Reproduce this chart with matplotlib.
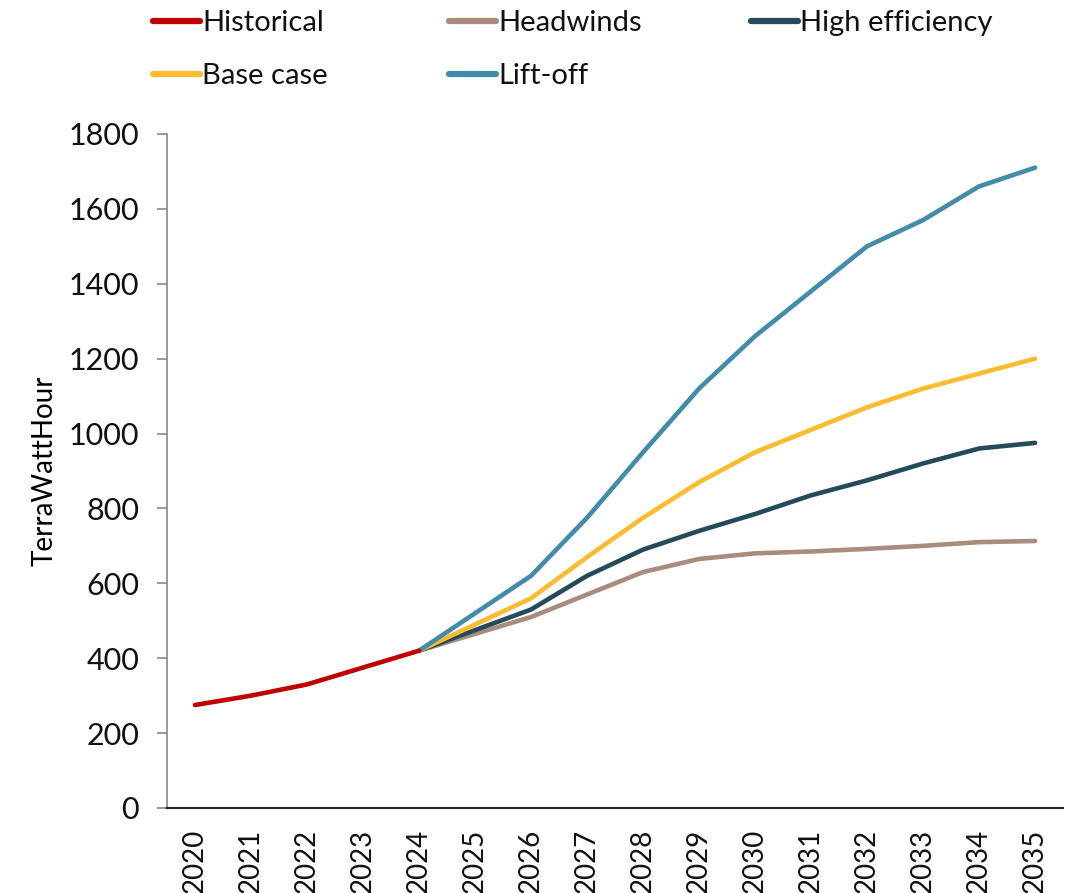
import matplotlib
matplotlib.use("Agg")
import matplotlib.pyplot as plt
from matplotlib.lines import Line2D

plt.rcParams["font.family"] = ["Lato", "DejaVu Sans"]
plt.rcParams["text.color"] = "#111111"
plt.rcParams["xtick.color"] = "#111111"
plt.rcParams["ytick.color"] = "#111111"

years = [str(y) for y in range(2020, 2036)]

historical = [275, 300, 330, 375, 420]
headwinds = [420, 465, 510, 570, 630, 665, 680, 685, 692, 700, 710, 713]
high_efficiency = [420, 475, 530, 620, 690, 740, 785, 835, 875, 920, 960, 975]
base_case = [420, 490, 560, 670, 775, 870, 950, 1010, 1070, 1120, 1160, 1200]
lift_off = [420, 520, 620, 775, 950, 1120, 1260, 1380, 1500, 1570, 1660, 1710]

colors = {
    "Historical": "#C00000",
    "Headwinds": "#A88D7D",
    "High efficiency": "#254A59",
    "Base case": "#FDBB30",
    "Lift-off": "#428BAA",
}

fig = plt.figure(figsize=(10.76, 8.93), dpi=100)
ax = fig.add_axes([0.1552, 0.0952, 0.8328, 0.7548])

x_all = list(range(len(years)))
x_hist = x_all[:5]
x_proj = x_all[4:]

lw = 3.3
ax.plot(x_proj, headwinds, color=colors["Headwinds"], lw=lw, solid_capstyle="round")
ax.plot(x_proj, high_efficiency, color=colors["High efficiency"], lw=lw, solid_capstyle="round")
ax.plot(x_proj, base_case, color=colors["Base case"], lw=lw, solid_capstyle="round")
ax.plot(x_proj, lift_off, color=colors["Lift-off"], lw=lw, solid_capstyle="round")
ax.plot(x_hist, historical, color=colors["Historical"], lw=lw, solid_capstyle="round")

ax.set_xlim(-0.5, len(years) - 0.5)
ax.set_ylim(0, 1800)
ax.set_yticks(range(0, 1801, 200))
ax.set_xticks(x_all)
ax.set_xticklabels(years, rotation=90, fontsize=20)
ax.tick_params(axis="y", labelsize=22, length=7, width=1.2, color="#888888", pad=13)
ax.tick_params(axis="x", length=0, pad=15)

for side in ["top", "right"]:
    ax.spines[side].set_visible(False)
ax.spines["left"].set_color("#888888")
ax.spines["left"].set_linewidth(1.2)
ax.spines["bottom"].set_color("#222222")
ax.spines["bottom"].set_linewidth(1.5)

ax.set_ylabel("TerraWattHour", fontsize=20, labelpad=8)

# legend as three equal-width columns
columns = [
    (0.1316, ["Historical", "Base case"]),
    (0.4065, ["Headwinds", "Lift-off"]),
    (0.6875, ["High efficiency"]),
]
for x0, names in columns:
    handles = [Line2D([0], [0], color=colors[k], lw=4.5, solid_capstyle="round") for k in names]
    fig.legend(handles, names, loc="upper left", bbox_to_anchor=(x0, 1.002),
               frameon=False, fontsize=21, handlelength=1.6, handletextpad=0.08,
               labelspacing=0.92, borderaxespad=0)

fig.savefig("out.png", dpi=100)
